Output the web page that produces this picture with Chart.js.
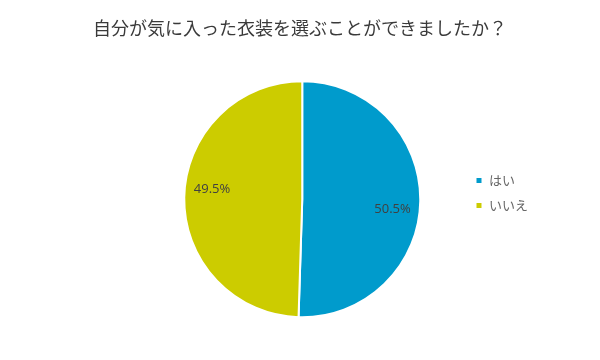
<!DOCTYPE html>
<html>
<head>
<meta charset="utf-8">
<script src="https://cdn.jsdelivr.net/npm/chart.js@4/dist/chart.umd.min.js"></script>
<style>
  html, body { margin: 0; padding: 0; background: #fff; }
  #wrap { width: 600px; height: 360px; }
</style>
</head>
<body>
<div id="wrap"><canvas id="c" width="600" height="360"></canvas></div>
<script>
const titleText = '自分が気に入った衣装を選ぶことができましたか？';
const categories = ['はい', 'いいえ'];
const values = [50.5, 49.5];
const colors = ['#009BCC', '#CCCC00'];

// Percent labels drawn inside each slice
const pctLabels = {
  id: 'pctLabels',
  afterDatasetsDraw(chart) {
    const ctx = chart.ctx;
    const meta = chart.getDatasetMeta(0);
    ctx.save();
    ctx.font = '13px "Open Sans", "DejaVu Sans", sans-serif';
    ctx.fillStyle = '#404040';
    ctx.textAlign = 'center';
    ctx.textBaseline = 'middle';
    meta.data.forEach((arc, i) => {
      const p = arc.getProps(['startAngle', 'endAngle', 'x', 'y', 'outerRadius'], true);
      const mid = (p.startAngle + p.endAngle) / 2 + 0.1;
      const r = p.outerRadius * 0.77;
      ctx.fillText(values[i].toFixed(1) + '%', p.x + Math.cos(mid) * r, p.y + Math.sin(mid) * r);
    });
    ctx.restore();
  }
};

// Center the title over the whole canvas and nudge the legend down
const layoutTweak = {
  id: 'layoutTweak',
  afterLayout(chart) {
    const t = chart.titleBlock;
    if (t) { t.left = 0; t.right = chart.width; t.width = chart.width; }
    const lg = chart.legend;
    if (lg) { lg.top += 19; lg.bottom += 19; }
  }
};

new Chart(document.getElementById('c'), {
  type: 'pie',
  data: {
    labels: categories,
    datasets: [{
      data: values,
      backgroundColor: colors,
      borderColor: '#ffffff',
      borderWidth: 2,
      radius: 118
    }]
  },
  options: {
    responsive: false,
    animation: false,
    layout: { padding: { left: 141, right: 62, top: 8, bottom: 20 } },
    plugins: {
      title: {
        display: true,
        text: titleText,
        color: '#3a3a3a',
        font: { size: 18, family: '"Noto Sans CJK JP", sans-serif', weight: 'normal' },
        padding: { top: 9, bottom: 20 }
      },
      legend: {
        position: 'right',
        labels: {
          boxWidth: 7,
          boxHeight: 7,
          padding: 12,
          color: '#666666',
          font: { size: 13, family: '"Noto Sans CJK JP", sans-serif' }
        }
      },
      tooltip: { enabled: false }
    }
  },
  plugins: [pctLabels, layoutTweak]
});
</script>
</body>
</html>
